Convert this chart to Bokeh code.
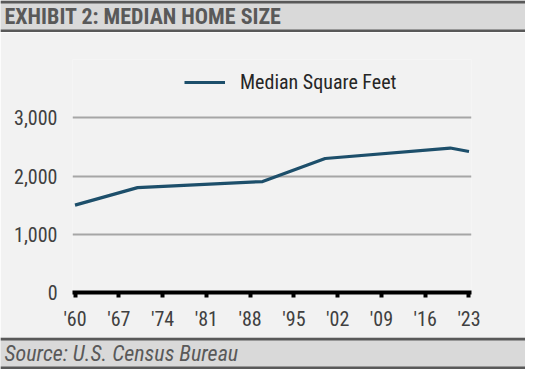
from bokeh.plotting import figure
from bokeh.models import Range1d, Span, Label, Legend, LegendItem, FixedTicker, CustomJSTickFormatter, NumeralTickFormatter
from bokeh.layouts import column
from bokeh.embed import file_html
from bokeh.resources import INLINE

# ---- data ----
years = [1960, 1970, 1990, 2000, 2020, 2023]
median_sqft = [1500, 1800, 1905, 2300, 2480, 2420]
x_ticks = [1960, 1967, 1974, 1981, 1988, 1995, 2002, 2009, 2016, 2023]
y_ticks = [0, 1000, 2000, 3000]
title_text = "EXHIBIT 2: MEDIAN HOME SIZE"
source_text = "Source: U.S. Census Bureau"
series_name = "Median Square Feet"

W = 525
FONT = "'Roboto Condensed', 'Liberation Sans Narrow', 'Arial Narrow', 'DejaVu Sans Condensed', sans-serif"
BAR = "#d9d9d9"
DARK = "#595959"
BG = "#f2f2f2"
LINE = "#1d4f6b"
TXT = "#404040"


def bar_fig(h, text, italic=False, bold=False, size="21px"):
    f = figure(width=W, height=h, x_range=Range1d(0, W), y_range=Range1d(0, h),
               output_backend="svg", toolbar_location=None, frame_align=False,
               min_border=0, min_border_left=0, min_border_right=0,
               min_border_top=0, min_border_bottom=0)
    f.axis.visible = False
    f.grid.visible = False
    f.outline_line_color = None
    f.background_fill_color = BAR
    f.border_fill_color = BAR
    f.add_layout(Span(location=h - 1.5, dimension="width", line_color=DARK, line_width=3))
    f.add_layout(Span(location=1.5, dimension="width", line_color=DARK, line_width=3))
    style = "bold" if bold else ("italic" if italic else "normal")
    f.add_layout(Label(x=4, y=h / 2, text=text, text_font=FONT, text_font_size=size,
                       text_font_style=style, text_color=DARK, text_baseline="middle"))
    return f


header = bar_fig(32, title_text, bold=True, size="22px")
footer = bar_fig(32, source_text, italic=True, size="22px")

# ---- main chart ----
p = figure(width=W, height=305, x_range=Range1d(1959.6, 2023.4), y_range=Range1d(0, 4000),
           output_backend="svg", toolbar_location=None, frame_align=False,
           min_border_left=72, min_border_right=54, min_border_top=27, min_border_bottom=45)
p.background_fill_color = BG
p.border_fill_color = BG
p.outline_line_color = None

r = p.line(years, median_sqft, line_color=LINE, line_width=3.2)

p.xgrid.visible = False
p.ygrid.ticker = FixedTicker(ticks=[1000, 2000, 3000])
p.ygrid.grid_line_color = "#a6a6a6"
p.ygrid.grid_line_width = 2

p.xaxis.ticker = FixedTicker(ticks=x_ticks)
p.xaxis.formatter = CustomJSTickFormatter(code="return \"'\" + String(tick).slice(2);")
p.xaxis.axis_line_color = "black"
p.xaxis.axis_line_width = 4
p.xaxis.major_tick_line_color = "black"
p.xaxis.major_tick_line_width = 4
p.xaxis.major_tick_out = 5
p.xaxis.major_tick_in = 0
p.xaxis.minor_tick_line_color = None
p.xaxis.major_label_standoff = 9
p.xaxis.major_label_text_font = FONT
p.xaxis.major_label_text_font_size = "20px"
p.xaxis.major_label_text_color = TXT

p.yaxis.ticker = FixedTicker(ticks=y_ticks)
p.yaxis.formatter = NumeralTickFormatter(format="0,0")
p.yaxis.axis_line_color = None
p.yaxis.major_tick_line_color = None
p.yaxis.minor_tick_line_color = None
p.yaxis.major_label_standoff = 9
p.yaxis.major_label_text_font = FONT
p.yaxis.major_label_text_font_size = "20px"
p.yaxis.major_label_text_color = TXT

legend = Legend(items=[LegendItem(label=series_name, renderers=[r])],
                location=(112, 198), orientation="horizontal")
legend.background_fill_alpha = 0
legend.border_line_color = None
legend.padding = 0
legend.margin = 0
legend.glyph_width = 41
legend.glyph_height = 20
legend.label_standoff = 15
legend.label_text_font = FONT
legend.label_text_font_size = "20px"
legend.label_text_color = "#262626"
p.add_layout(legend)

layout = column(header, p, footer, spacing=0)
open("out.html", "w").write(file_html(layout, INLINE))
